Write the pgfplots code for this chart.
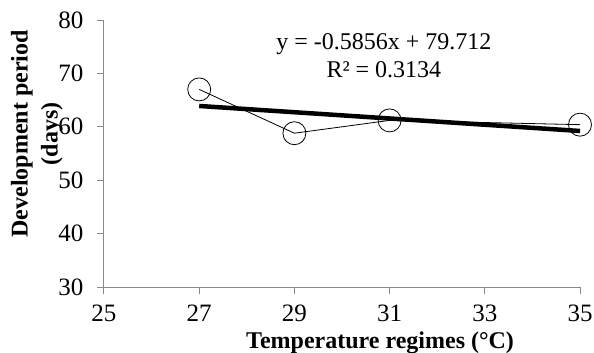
\documentclass[border=0pt]{standalone}
\usepackage{pgfplots}
\pgfplotsset{compat=1.18}
\usepackage{fontspec}
\setmainfont{Liberation Serif}
\definecolor{axgray}{RGB}{137,137,137}
\begin{document}
\begin{tikzpicture}
\begin{axis}[
 scale only axis, width=476bp, height=267bp,
 xmin=25, xmax=35, ymin=30, ymax=80,
 xtick={25,27,...,35}, ytick={30,40,...,80},
 axis lines*=left,
 axis line style={axgray, line width=1bp},
 tick style={axgray, line width=1bp},
 tick align=outside, major tick length=7bp,
 /pgf/number format/assume math mode=true,
 ticklabel style={font=\fontsize{25bp}{27bp}\selectfont},
 xticklabel style={yshift=-7bp},
 yticklabel style={xshift=-10bp},
 xlabel={Temperature regimes (°C)},
 xlabel style={font=\fontsize{24bp}{26bp}\selectfont\bfseries, at={(axis description cs:0.58,-0.229)}, anchor=base},
 ylabel={Development period\\(days)},
 ylabel style={font=\fontsize{24bp}{30bp}\selectfont\bfseries, align=center, at={(axis description cs:-0.141,0.574)}, anchor=center},
 clip=false,
]
\addplot[black, line width=0.8bp, mark=o, mark size=11.5bp, mark options={line width=0.8bp, fill=none}] coordinates {(27,67) (29,58.8) (31,61.2) (35,60.4)};
\addplot[black, line width=4.5bp] coordinates {(27,63.901) (35,59.216)};
\node[anchor=base, font=\fontsize{24bp}{26bp}\selectfont] at (axis cs:30.88,74.4) {y = -0.5856x + 79.712};
\node[anchor=base, font=\fontsize{24bp}{26bp}\selectfont] at (axis cs:30.88,69.3) {R² = 0.3134};
\end{axis}
\pgfresetboundingbox
\path ([shift={(-104bp,-66bp)}]current axis.south west) rectangle ([shift={(14bp,20bp)}]current axis.north east);
\end{tikzpicture}
\end{document}
